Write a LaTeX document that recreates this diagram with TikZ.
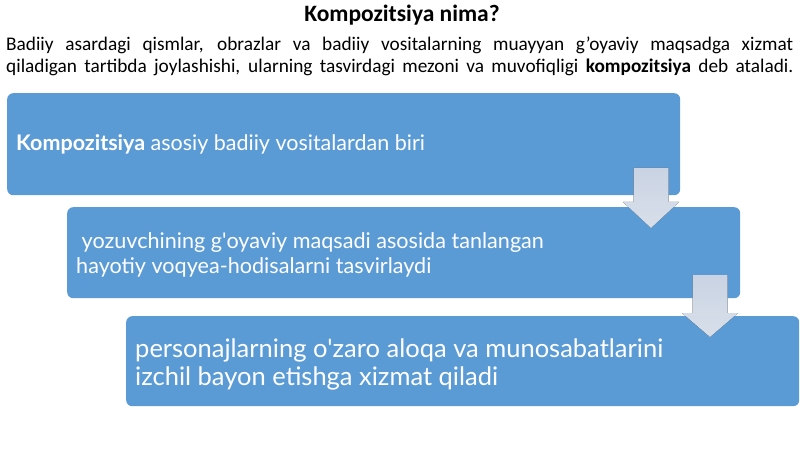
\documentclass[tikz,border=0pt]{standalone}
\usepackage{fontspec}
\setmainfont{Carlito}
\newfontfamily\boxfont{Lato}
\usetikzlibrary{positioning}
\definecolor{boxblue}{RGB}{91,155,213}
\definecolor{arrowtop}{RGB}{212,223,239}
\definecolor{arrowbot}{RGB}{228,235,246}
\tikzset{
  stage/.style={draw=none, fill=boxblue, rounded corners=6pt, anchor=north west, inner sep=0pt},
  stagetext/.style={anchor=west, text=white, align=left, inner sep=0pt, font=\boxfont},
  para/.style={anchor=west, inner sep=0pt, font=\fontsize{19.3}{22}\selectfont},
}
\begin{document}
\begin{tikzpicture}[x=1pt, y=-1pt]
            \useasboundingbox (0,0) rectangle (800,449);
            \node[font=\bfseries\fontsize{23.5}{26}\selectfont] (title) at (402,15) {Kompozitsiya nima?};
            \node[para] (line1) at (6,45) {\makebox[787pt][s]{Badiiy asardagi qismlar, obrazlar va badiiy vositalarning muayyan g’oyaviy maqsadga xizmat}};
            \node[para] (line2) at (6,67) {\makebox[787pt][s]{qiladigan tartibda joylashishi, ularning tasvirdagi mezoni va muvofiqligi \textbf{kompozitsiya} deb ataladi.}};

            % three stages
            \node[stage, minimum width=673pt, minimum height=102pt] (box1) at (7,93) {};
            \node[stage, minimum width=673pt, minimum height=91pt] (box2) at (67,207) {};
            \node[stage, minimum width=673pt, minimum height=90pt] (box3) at (126,316) {};

            \node[stagetext, font=\boxfont\fontsize{21.5}{25}\selectfont] (text1) at ([xshift=9pt]box1.west) {\textbf{Kompozitsiya} asosiy badiiy vositalardan biri};
            \node[stagetext, font=\boxfont\fontsize{21.6}{25}\selectfont] (text2) at ([xshift=9pt, yshift=-2pt]box2.west) {\ yozuvchining g\textquotesingle oyaviy maqsadi asosida tanlangan\\hayotiy voqyea-hodisalarni tasvirlaydi};
            \node[stagetext, font=\boxfont\fontsize{25.5}{28}\selectfont] (text3) at ([xshift=9pt, yshift=-3pt]box3.west) {personajlarning o\textquotesingle zaro aloqa va munosabatlarini\\izchil bayon etishga xizmat qiladi};

            % down arrows between stages
            \foreach \cx/\top/\neck/\tip in {651/168/202/228, 710/275/313/337}
                \fill[top color=arrowtop, bottom color=arrowbot, fill opacity=0.95]
                    (\cx-17.5,\top) -- (\cx+17.5,\top) -- (\cx+17.5,\neck) -- (\cx+28,\neck)
                    -- (\cx,\tip) -- (\cx-28,\neck) -- (\cx-17.5,\neck) -- cycle;
        \end{tikzpicture}
\end{document}
